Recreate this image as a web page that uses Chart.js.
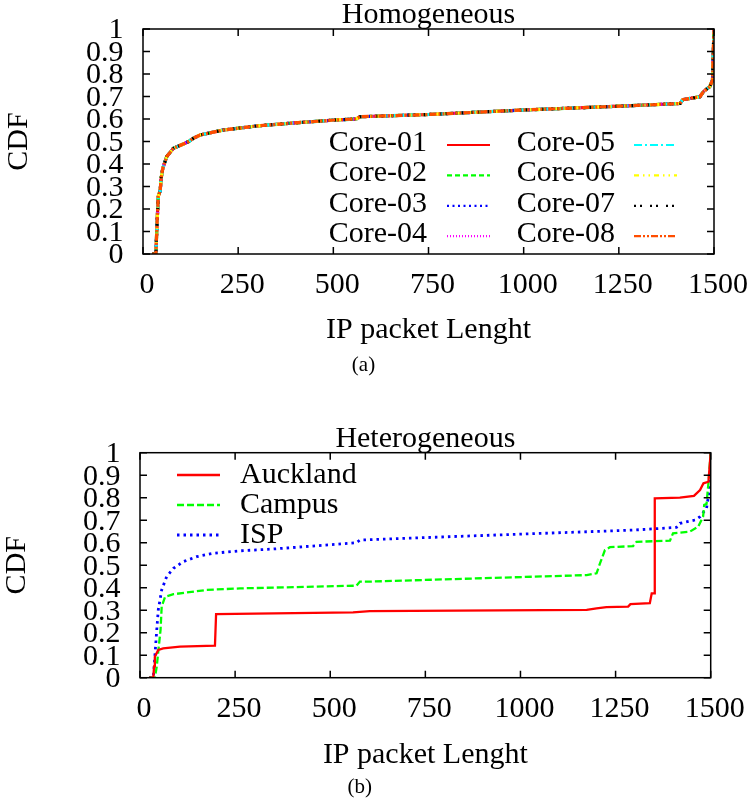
<!DOCTYPE html>
<html>
<head>
<meta charset="utf-8">
<script src="https://cdn.jsdelivr.net/npm/chart.js@4.4.0/dist/chart.umd.min.js"></script>
<style>
    body { margin: 0; background: #fff; }
    canvas { display: block; }
</style>
</head>
<body>
<canvas id="homogeneous" width="751" height="400"></canvas>
<canvas id="heterogeneous" width="751" height="403"></canvas>
<script>
// tick labels shared by both plots
const lengthTicks = [0, 250, 500, 750, 1000, 1250, 1500];
const cdfTicks = [0, 0.1, 0.2, 0.3, 0.4, 0.5, 0.6, 0.7, 0.8, 0.9, 1];

// (a) homogeneous: the eight cores sit on top of each other
const coreNames = ['Core-01', 'Core-02', 'Core-03', 'Core-04', 'Core-05', 'Core-06', 'Core-07', 'Core-08'];
const coreLength = [24, 34, 36, 40, 45, 48, 52, 62, 80, 106, 120, 132, 150, 211, 299, 386, 509, 560, 570, 750, 1000, 1253, 1411, 1418, 1463, 1472, 1489, 1496, 1500];
const coreCdf = [0, 0, 0.1, 0.255, 0.28, 0.34, 0.381, 0.432, 0.47, 0.489, 0.5, 0.514, 0.529, 0.551, 0.569, 0.581, 0.596, 0.6, 0.61, 0.62, 0.64, 0.657, 0.669, 0.686, 0.699, 0.721, 0.744, 0.773, 1];

// (b) heterogeneous traces
const traceNames = ['Auckland', 'Campus', 'ISP'];
const aucklandLength = [24, 35, 37, 39, 48, 61, 105, 197, 200, 560, 604, 1174, 1200, 1226, 1283, 1289, 1340, 1345, 1351, 1353, 1419, 1456, 1472, 1481, 1494, 1500];
const aucklandCdf = [0, 0, 0.05, 0.093, 0.123, 0.13, 0.138, 0.142, 0.283, 0.29, 0.296, 0.301, 0.308, 0.314, 0.316, 0.327, 0.331, 0.375, 0.375, 0.797, 0.8, 0.808, 0.834, 0.864, 0.871, 1];
const campusLength = [24, 39, 44, 48, 54, 57, 66, 88, 175, 263, 569, 578, 604, 1174, 1200, 1209, 1222, 1235, 1296, 1305, 1393, 1401, 1445, 1467, 1480, 1483, 1489, 1494, 1500];
const campusCdf = [0, 0, 0.049, 0.116, 0.212, 0.316, 0.36, 0.371, 0.39, 0.397, 0.409, 0.427, 0.427, 0.456, 0.464, 0.508, 0.567, 0.58, 0.585, 0.604, 0.609, 0.642, 0.649, 0.671, 0.716, 0.768, 0.772, 0.864, 1];
const ispLength = [24, 35, 39, 44, 48, 57, 70, 88, 114, 149, 193, 263, 350, 569, 578, 867, 1130, 1296, 1410, 1419, 1459, 1472, 1489, 1498, 1500];
const ispCdf = [0, 0, 0.093, 0.212, 0.301, 0.39, 0.449, 0.486, 0.516, 0.538, 0.553, 0.564, 0.572, 0.6, 0.612, 0.63, 0.646, 0.656, 0.668, 0.686, 0.701, 0.716, 0.753, 0.849, 1];

// gnuplot-ish line types
const coreColors = ['#ff0000', '#00ff00', '#0000ff', '#ff00ff', '#00ffff', '#ffff00', '#000000', '#ff4d00'];
const coreDashes = [[], [5, 3], [2, 3.5], [1, 2], [8, 3, 2, 3], [5, 4, 1.5, 4, 1.5, 4], [2, 4, 2, 8], [7, 2, 2, 2, 2, 2]];

Chart.defaults.font.family = "'Liberation Serif', 'Times New Roman', serif";
Chart.defaults.color = '#000';

function points(xs, ys) {
    return xs.map((v, i) => ({x: v, y: ys[i]}));
}

// fixed box size, and no extra room asked for the end labels
function fixSize(w, h) {
    return s => {
        if (w !== null) s.width = w;
        if (h !== null) s.height = h;
        s.paddingTop = s.paddingBottom = s.paddingLeft = s.paddingRight = 0;
    };
}

// box round the plot with inward ticks on all four sides
const frame = {
    id: 'frame',
    afterDatasetsDraw(chart) {
        const {ctx, chartArea: a, scales: {x, y}} = chart;
        ctx.save();
        ctx.strokeStyle = '#000';
        ctx.lineWidth = 1.5;
        ctx.beginPath();
        x.ticks.forEach(t => {
            const px = x.getPixelForValue(t.value);
            ctx.moveTo(px, a.bottom);
            ctx.lineTo(px, a.bottom - 7);
            ctx.moveTo(px, a.top);
            ctx.lineTo(px, a.top + 7);
        });
        y.ticks.forEach(t => {
            const py = y.getPixelForValue(t.value);
            ctx.moveTo(a.left, py);
            ctx.lineTo(a.left + 7, py);
            ctx.moveTo(a.right, py);
            ctx.lineTo(a.right - 7, py);
        });
        ctx.stroke();
        ctx.strokeRect(a.left, a.top, a.width, a.height);
        ctx.restore();
    }
};

// gnuplot style key: label and a sample of the line
const key = {
    id: 'key',
    afterDraw(chart, args, opts) {
        const ctx = chart.ctx;
        const sets = chart.data.datasets;
        ctx.save();
        ctx.font = '30px ' + Chart.defaults.font.family;
        ctx.textBaseline = 'middle';
        ctx.fillStyle = '#000';
        sets.forEach((ds, i) => {
            const col = opts.columns[Math.floor(i / opts.perColumn)];
            const y = opts.rowTop + (i % opts.perColumn) * opts.rowGap;
            if (col.textRight !== undefined) {
                ctx.textAlign = 'right';
                ctx.fillText(ds.label, col.textRight, y + opts.textDy);
            } else {
                ctx.textAlign = 'left';
                ctx.fillText(ds.label, col.textLeft, y + opts.textDy);
            }
            ctx.beginPath();
            ctx.strokeStyle = ds.borderColor;
            ctx.lineWidth = opts.sampleWidth || ds.borderWidth;
            ctx.setLineDash(ds.borderDash || []);
            ctx.moveTo(col.lineFrom, y);
            ctx.lineTo(col.lineTo, y);
            ctx.stroke();
        });
        ctx.restore();
    }
};

function cdfOptions(cfg) {
    return {
        responsive: false,
        animation: false,
        layout: {padding: {left: cfg.padLeft, right: cfg.padRight, top: 0, bottom: 0}},
        elements: {point: {radius: 0}, line: {tension: 0}},
        scales: {
            xTop: {
                type: 'linear',
                position: 'top',
                min: 0,
                max: 1500,
                ticks: {display: false},
                grid: {display: false, drawTicks: false},
                border: {display: false},
                title: {display: true, text: cfg.title, font: {size: 30, lineHeight: 1}, padding: {top: cfg.titlePad, bottom: 0}},
                afterFit: fixSize(null, cfg.topHeight)
            },
            x: {
                type: 'linear',
                position: 'bottom',
                min: 0,
                max: 1500,
                afterBuildTicks: s => { s.ticks = lengthTicks.map(v => ({value: v})); },
                ticks: {font: {size: 30}, padding: 13.5, labelOffset: 4, maxRotation: 0, autoSkip: false, callback: v => String(v)},
                grid: {display: false, drawTicks: false},
                border: {display: false},
                title: {display: true, text: 'IP packet Lenght', font: {size: 30}, padding: {top: 0, bottom: cfg.xTitlePad}},
                afterFit: fixSize(null, cfg.xHeight)
            },
            y: {
                type: 'linear',
                position: 'left',
                min: 0,
                max: 1,
                afterBuildTicks: s => { s.ticks = cdfTicks.map(v => ({value: v})); },
                ticks: {font: {size: 30}, padding: 19.5, labelOffset: 1.5, autoSkip: false, callback: v => String(v)},
                grid: {display: false, drawTicks: false},
                border: {display: false},
                title: {display: true, text: 'CDF', font: {size: 30}, padding: {top: cfg.yTitlePad, bottom: 0}},
                afterFit: fixSize(cfg.yWidth, null)
            }
        },
        plugins: {
            legend: {display: false},
            tooltip: {enabled: false},
            subtitle: {
                display: true,
                position: 'bottom',
                text: cfg.caption,
                font: {size: 21, weight: 'normal'},
                padding: {top: 0, bottom: cfg.captionPad}
            },
            key: cfg.key
        }
    };
}

new Chart(document.getElementById('homogeneous'), {
    type: 'line',
    data: {
        datasets: coreNames.map((name, i) => ({
            label: name,
            data: points(coreLength, coreCdf),
            borderColor: coreColors[i],
            borderDash: coreDashes[i],
            borderWidth: 3.2,
            order: coreNames.length - i,
            fill: false
        }))
    },
    options: cdfOptions({
        title: 'Homogeneous', caption: '(a)',
        padLeft: 13, padRight: 37, yWidth: 130, yTitlePad: -12,
        topHeight: 29, titlePad: 0, xHeight: 98.4, xTitlePad: 3.9, captionPad: 22.4,
        key: {
            columns: [{textRight: 427, lineFrom: 447, lineTo: 490}, {textRight: 615, lineFrom: 634, lineTo: 677}],
            perColumn: 4, rowTop: 145, rowGap: 30.4, textDy: -2, sampleWidth: 2.2
        }
    }),
    plugins: [frame, key]
});

const traceLength = [aucklandLength, campusLength, ispLength];
const traceCdf = [aucklandCdf, campusCdf, ispCdf];
const traceColors = ['#ff0000', '#00ff00', '#0000ff'];
const traceDashes = [[], [7, 3], [2.5, 4]];

new Chart(document.getElementById('heterogeneous'), {
    type: 'line',
    data: {
        datasets: traceNames.map((name, i) => ({
            label: name,
            data: points(traceLength[i], traceCdf[i]),
            borderColor: traceColors[i],
            borderDash: traceDashes[i],
            borderWidth: i === 2 ? 2.8 : 2.3,
            fill: false
        }))
    },
    options: cdfOptions({
        title: 'Heterogeneous', caption: '(b)',
        padLeft: 9, padRight: 40.3, yWidth: 131, yTitlePad: -10.3,
        topHeight: 52.7, titlePad: 23.8, xHeight: 97.2, xTitlePad: 1.9, captionPad: 2.9,
        key: {
            columns: [{textLeft: 240, lineFrom: 177, lineTo: 220}],
            perColumn: 3, rowTop: 75, rowGap: 30, textDy: 0
        }
    }),
    plugins: [frame, key]
});
</script>
</body>
</html>
